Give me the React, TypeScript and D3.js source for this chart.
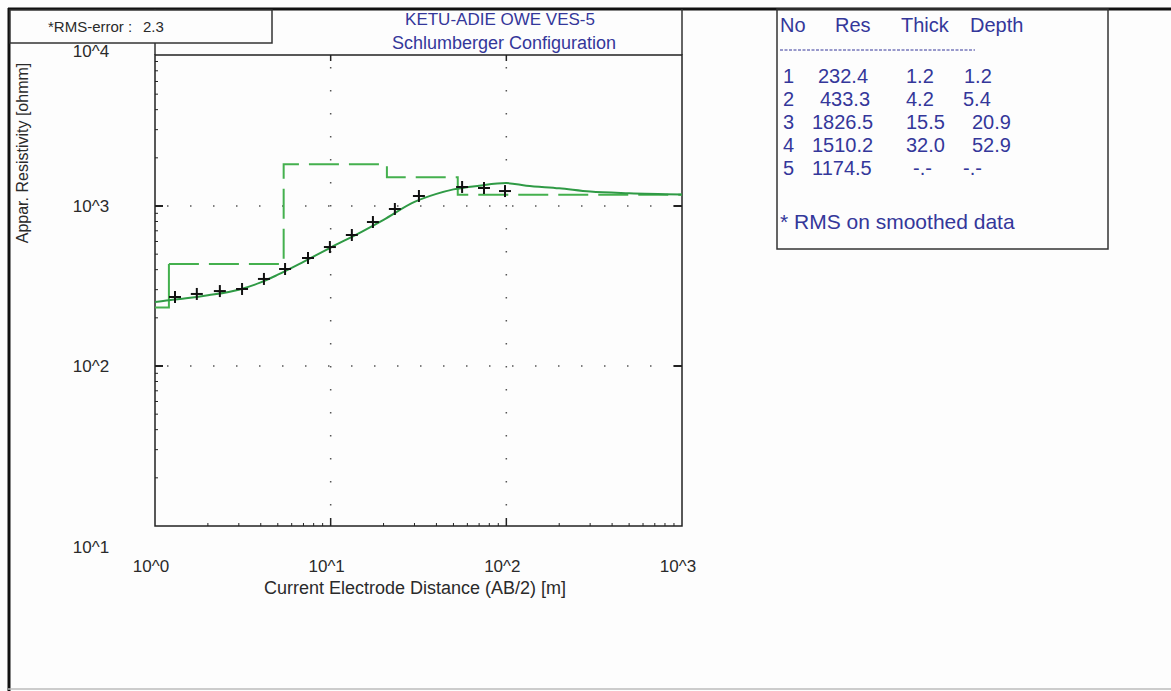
import React from "react";
import * as d3 from "d3";

// ---- data ----
const OBS_AB2 = [1.3, 1.73, 2.34, 3.13, 4.17, 5.5, 7.43, 9.9, 13.2, 17.4, 23.2, 31.8, 56, 74.6, 98.3];
const OBS_RHO = [270, 282, 294, 303, 350, 404, 473, 554, 659, 794, 958, 1155, 1315, 1296, 1240];

const CURVE_AB2 = [1, 1.2, 1.5, 2, 3, 4, 5, 7, 10, 15, 20, 30, 40, 50, 70, 100, 130, 200, 300, 500, 1000];
const CURVE_RHO = [251, 258, 265, 277, 300, 333, 372, 448, 550, 690, 820, 1060, 1190, 1270, 1340, 1390, 1340, 1290, 1230, 1200, 1180];

const LAYER_NO = ["1", "2", "3", "4", "5"];
const LAYER_RES = [232.4, 433.3, 1826.5, 1510.2, 1174.5];
const LAYER_THICK = ["1.2", "4.2", "15.5", "32.0", "-.-"];
const LAYER_DEPTH = [1.2, 5.4, 20.9, 52.9];
const LAYER_DEPTH_TXT = ["1.2", "5.4", "20.9", "52.9", "-.-"];

const X_TICKS = [1, 10, 100, 1000];
const X_TICK_LABELS = ["10^0", "10^1", "10^2", "10^3"];
const Y_TICKS = [10, 100, 1000, 10000];
const Y_TICK_LABELS = ["10^1", "10^2", "10^3", "10^4"];

const TITLE1 = "KETU-ADIE OWE VES-5";
const TITLE2 = "Schlumberger Configuration";
const RMS_LABEL = "*RMS-error :";
const RMS_VALUE = "2.3";
const X_TITLE = "Current Electrode Distance (AB/2) [m]";
const Y_TITLE = "Appar. Resistivity [ohmm]";
const TABLE_HEAD = ["No", "Res", "Thick", "Depth"];
const TABLE_NOTE = "* RMS on smoothed data";

const FONT = "'Liberation Sans', Arial, sans-serif";
const BLUE = "#34379a";
const GREEN_D = "#44b04e";
const GREEN_S = "#2f9a45";
const INK = "#2a2a2a";

export default function App() {
  const W = 1171, H = 691;
  const L = 155, R = 682, T = 55, B = 526;
  const x = d3.scaleLog().domain([1, 1000]).range([L, R]);
  const y = d3.scaleLog().domain([10, 10000]).range([B, 46]);

  const xMinor: number[] = [];
  for (let d = 1; d < 1000; d *= 10) for (let k = 2; k <= 9; k++) xMinor.push(d * k);
  const yMinor: number[] = [];
  for (let d = 10; d < 10000; d *= 10) for (let k = 2; k <= 9; k++) if (y(d * k) > T) yMinor.push(d * k);

  const stepPts: [number, number][] = [];
  const bounds = [1, ...LAYER_DEPTH, 1000];
  for (let i = 0; i < LAYER_RES.length; i++) {
    stepPts.push([bounds[i], LAYER_RES[i]]);
    stepPts.push([bounds[i + 1], LAYER_RES[i]]);
  }
  const lineGen = d3.line<[number, number]>().x((d) => x(d[0])).y((d) => y(d[1]));
  const firstPart = stepPts.slice(0, 3);
  const restPart = stepPts.slice(2);

  const curvePts: [number, number][] = CURVE_AB2.map((v, i) => [v, CURVE_RHO[i]]);
  const curveGen = d3
    .line<[number, number]>()
    .x((d) => x(d[0]))
    .y((d) => y(d[1]))
    .curve(d3.curveMonotoneX);

  const gridX = [10, 100];
  const gridY = [100, 1000];

  const tableX = 777, tableR = 1108, tableB = 249;
  const headX = [780, 835, 901, 970];
  const resX = [818, 820, 812, 812, 812];
  const thickX = [906, 906, 906, 906, 913];
  const depthX = [964, 963, 972, 972, 963];
  const rowY = [76, 99, 122, 145, 168];

  return (
    <svg width={W} height={H} style={{ position: "absolute", left: 0, top: 0 }} fontFamily={FONT}>
      <rect x={0} y={0} width={W} height={H} fill="#fdfdfd" />
      {/* outer frame */}
      <line x1={8} x2={W} y1={9} y2={9} stroke="#111" strokeWidth={3} />
      <line x1={9} x2={9} y1={8} y2={H} stroke="#111" strokeWidth={3} />
      <line x1={8} x2={W} y1={689} y2={689} stroke="#bbb" strokeWidth={1.5} />
      {/* title zone */}
      <line x1={L} x2={L} y1={9} y2={T} stroke="#333" strokeWidth={1.5} />
      <line x1={R} x2={R} y1={9} y2={T} stroke="#333" strokeWidth={1.5} />
      <text x={500} y={25} textAnchor="middle" fontSize={17} fill={BLUE}>{TITLE1}</text>
      <text x={504} y={49} textAnchor="middle" fontSize={18} fill={BLUE}>{TITLE2}</text>
      {/* RMS box */}
      <rect x={10} y={10} width={262} height={33} fill="#fdfdfd" stroke="#333" strokeWidth={1.5} />
      <text x={48} y={32} fontSize={15} fill={INK}>{RMS_LABEL}</text>
      <text x={143} y={32} fontSize={15} fill={INK}>{RMS_VALUE}</text>

      {/* grid dotted */}
      {gridX.map((v) => (
        <line key={"gx" + v} x1={x(v)} x2={x(v)} y1={T + 12} y2={B} stroke="#555" strokeWidth={1.5} strokeDasharray="1.5 21.5" />
      ))}
      {gridY.map((v) => (
        <line key={"gy" + v} x1={L + 12} x2={R} y1={y(v)} y2={y(v)} stroke="#555" strokeWidth={1.5} strokeDasharray="1.5 21.5" />
      ))}

      {/* plot frame */}
      <rect x={L} y={T} width={R - L} height={B - T} fill="none" stroke="#222" strokeWidth={1.5} />
      {xMinor.map((v) => (
        <line key={"xm" + v} x1={x(v)} x2={x(v)} y1={B} y2={B - 3} stroke="#222" />
      ))}
      {gridX.map((v) => (
        <g key={"xM" + v}>
          <line x1={x(v)} x2={x(v)} y1={B} y2={B - 8} stroke="#222" strokeWidth={1.5} />
          <line x1={x(v)} x2={x(v)} y1={T} y2={T + 6} stroke="#222" strokeWidth={1.5} />
        </g>
      ))}
      {yMinor.map((v) => (
        <line key={"ym" + v} x1={L} x2={L + 3} y1={y(v)} y2={y(v)} stroke="#222" />
      ))}
      {gridY.map((v) => (
        <g key={"yM" + v}>
          <line x1={L} x2={L + 8} y1={y(v)} y2={y(v)} stroke="#222" strokeWidth={2} />
          <line x1={R} x2={R - 8} y1={y(v)} y2={y(v)} stroke="#222" strokeWidth={2} />
        </g>
      ))}

      {/* tick labels */}
      {X_TICKS.map((v, i) => (
        <text key={"xl" + v} x={x(v) - 4} y={572} textAnchor="middle" fontSize={17} fill={INK}>{X_TICK_LABELS[i]}</text>
      ))}
      {Y_TICKS.map((v, i) => (
        <text key={"yl" + v} x={91} y={i === 0 ? 553 : i === 3 ? 57 : y(v) + 6} textAnchor="middle" fontSize={17} fill={INK}>{Y_TICK_LABELS[i]}</text>
      ))}
      <text x={415} y={594} textAnchor="middle" fontSize={18} fill={INK}>{X_TITLE}</text>
      <text transform={`translate(28,153) rotate(-90)`} textAnchor="middle" fontSize={16} fill={INK}>{Y_TITLE}</text>

      {/* model step */}
      <path d={lineGen(firstPart) || ""} fill="none" stroke={GREEN_D} strokeWidth={2} />
      <path d={lineGen(restPart) || ""} fill="none" stroke={GREEN_D} strokeWidth={2} strokeDasharray="30 10" />
      {/* calculated curve */}
      <path d={curveGen(curvePts) || ""} fill="none" stroke={GREEN_S} strokeWidth={2} />
      {/* observed points */}
      {OBS_AB2.map((v, i) => (
        <g key={"p" + i} stroke="#111" strokeWidth={2}>
          <line x1={x(v) - 6} x2={x(v) + 6} y1={y(OBS_RHO[i])} y2={y(OBS_RHO[i])} />
          <line x1={x(v)} x2={x(v)} y1={y(OBS_RHO[i]) - 6} y2={y(OBS_RHO[i]) + 6} />
        </g>
      ))}

      {/* table */}
      <rect x={tableX} y={9} width={tableR - tableX} height={tableB - 9} fill="none" stroke="#333" strokeWidth={1.5} />
      <text y={32} fontSize={20} fill={BLUE}>
        {TABLE_HEAD.map((h, i) => (
          <tspan key={h} x={headX[i]}>{h}</tspan>
        ))}
      </text>
      <line x1={780} x2={975} y1={50} y2={50} stroke={BLUE} strokeWidth={1} strokeDasharray="3 1.5" />
      {LAYER_NO.map((n, i) => (
        <text key={"row" + n} y={rowY[i] + 7} fontSize={20} fill={BLUE}>
          <tspan x={783}>{n}</tspan>
          <tspan x={resX[i]}>{LAYER_RES[i].toFixed(1)}</tspan>
          <tspan x={thickX[i]}>{LAYER_THICK[i]}</tspan>
          <tspan x={depthX[i]}>{LAYER_DEPTH_TXT[i]}</tspan>
        </text>
      ))}
      <text x={780} y={229} fontSize={21} fill={BLUE}>{TABLE_NOTE}</text>
    </svg>
  );
}
